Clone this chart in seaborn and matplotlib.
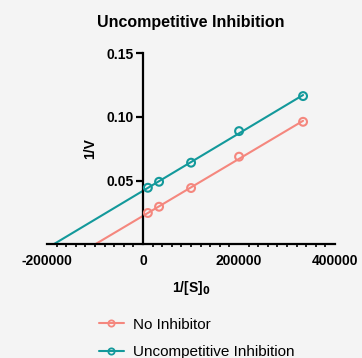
import numpy as np
import pandas as pd
import matplotlib
matplotlib.use("Agg")
import matplotlib.pyplot as plt
import seaborn as sns
from matplotlib.lines import Line2D
from matplotlib.ticker import MultipleLocator

# data
inv_s = [10000, 33333, 100000, 200000, 333333]
inv_v_none = [0.0246, 0.0295, 0.0442, 0.0688, 0.0962]
inv_v_uncomp = [0.0444, 0.0491, 0.0641, 0.0889, 0.1164]
series_names = ["No Inhibitor", "Uncompetitive Inhibition"]
colors = ["#f4877e", "#13999b"]
x_ticks = [-200000, 0, 200000, 400000]
y_ticks = [0.05, 0.10, 0.15]

bg = "#f4f4f4"
sns.set_theme(style="white")
plt.rcParams["font.family"] = ["Liberation Sans", "DejaVu Sans"]
plt.rcParams["text.color"] = "black"
plt.rcParams["axes.labelcolor"] = "black"
plt.rcParams["xtick.color"] = "black"
plt.rcParams["ytick.color"] = "black"

fig = plt.figure(figsize=(3.62, 3.58), dpi=100, facecolor=bg)
ax = fig.add_axes([0.13, 0.3176, 0.7956, 0.5335])
ax.set_facecolor(bg)

frames = []
for name, yv in zip(series_names, [inv_v_none, inv_v_uncomp]):
    frames.append(pd.DataFrame({"x": inv_s, "y": yv, "series": name}))
df = pd.concat(frames, ignore_index=True)

# linear fit lines extended back to the x-intercept
fit_rows = []
for name in series_names:
    sub = df[df.series == name]
    b, a = np.polyfit(sub.x, sub.y, 1)
    x0 = -a / b
    fit_rows.append(pd.DataFrame({"x": [x0, max(inv_s)], "y": [0, a + b * max(inv_s)], "series": name}))
fit = pd.concat(fit_rows, ignore_index=True)

pal = dict(zip(series_names, colors))
sns.lineplot(data=fit, x="x", y="y", hue="series", palette=pal, lw=1.5, legend=False, ax=ax)
for name in series_names:
    sub = df[df.series == name]
    ax.scatter(sub.x, sub.y, s=32, facecolors="none", edgecolors=pal[name], linewidths=1.5, zorder=3)

ax.set_xlim(-200000, 400000)
ax.set_ylim(0, 0.15)
ax.spines["left"].set_position(("data", 0))
ax.spines["bottom"].set_position(("data", 0))
ax.spines["right"].set_visible(False)
ax.spines["top"].set_visible(False)
for s in ["left", "bottom"]:
    ax.spines[s].set_linewidth(1.6)
    ax.spines[s].set_color("black")

ax.set_xticks(x_ticks)
ax.set_xticklabels([str(t) for t in x_ticks], fontweight="bold", fontsize=10)
ax.set_yticks(y_ticks)
ax.set_yticklabels([f"{t:.2f}" for t in y_ticks], fontweight="bold", fontsize=10)
ax.xaxis.set_minor_locator(MultipleLocator(20000))
ax.tick_params(axis="x", which="major", direction="out", length=5, width=1.6, color="black", pad=2)
ax.tick_params(axis="x", which="minor", direction="out", length=2.5, width=1.2, color="black", bottom=True)
ax.tick_params(axis="y", which="major", direction="out", length=5, width=1.6, color="black", pad=2, left=True)

ax.set_xlabel("1/[S]$_\\mathbf{0}$", fontweight="bold", fontsize=10, labelpad=8)
ax.set_ylabel("1/V", fontweight="bold", fontsize=10)
ax.yaxis.set_label_coords(0.174, 0.5)
ax.set_title("Uncompetitive Inhibition", fontweight="bold", fontsize=11.5, pad=19)

handles = [Line2D([0], [0], color=c, lw=1.5, marker="o", markersize=4.5,
                  markerfacecolor="none", markeredgewidth=1.3) for c in colors]
fig.legend(handles, series_names, loc="lower left", bbox_to_anchor=(0.27, -0.008),
           frameon=False, fontsize=11, handlelength=1.6, handletextpad=0.6,
           labelspacing=0.9, borderpad=0.1, borderaxespad=0)

fig.savefig("out.png", dpi=100, facecolor=bg)
